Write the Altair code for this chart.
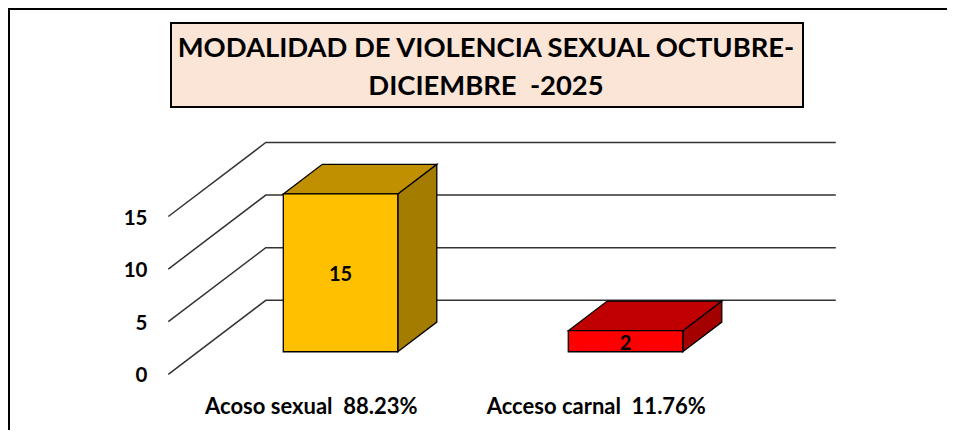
import altair as alt
import pandas as pd

# --- values ---
title_lines = ["MODALIDAD DE VIOLENCIA SEXUAL OCTUBRE-", "DICIEMBRE  -2025"]
categories = ["Acoso sexual  88.23%", "Acceso carnal  11.76%"]
values = [15, 2]
front_colors = ["#FFC000", "#FF0000"]
top_colors = ["#C09000", "#C00000"]
side_colors = ["#A37C00", "#A50000"]
y_ticks = [0, 5, 10, 15]

# --- layout of the oblique 3-D projection ---
W, H = 939, 422
X0, Y0, BAND, UNIT = 160.3, 366.3, 285.0, 10.52      # canvas px of the origin, band, value unit
X_DOMAIN = [-X0 / BAND, (W - X0) / BAND]
Y_DOMAIN = [(Y0 - H) / UNIT, Y0 / UNIT]
DEPTH_X, DEPTH_V = 97.5 / BAND, 74 / UNIT            # shift at the back wall, in data units
BAR_W, BAR_FRONT, BAR_BACK = 114.5 / BAND, 0.305, 0.705
FONT = "Lato"


def keep_spaces(s):
    return s.replace("  ", " \u00a0")


def proj(cat_pos, v, depth):
    return cat_pos + depth * DEPTH_X, v + depth * DEPTH_V


grid_rows, side_rows, top_rows, front_rows, label_rows = [], [], [], [], []
for t in y_ticks:
    for xp, d in [(0, 0), (0, 1), (2, 1)]:
        px, pv = proj(xp, t, d)
        grid_rows.append({"tick": t, "x": px, "y": pv, "o": len(grid_rows)})

for i, (cat, v) in enumerate(zip(categories, values)):
    c = i + 0.5
    l, r = c - BAR_W / 2, c + BAR_W / 2
    # side face
    for d in (BAR_FRONT, BAR_BACK):
        px, hi = proj(r, v, d)
        _, lo = proj(r, 0, d)
        side_rows.append({"cat": cat, "x": px, "y": hi, "y2": lo, "color": side_colors[i]})
    # top face
    a = proj(l, v, BAR_FRONT)
    b = proj(l, v, BAR_BACK)
    e = proj(r, v, BAR_FRONT)
    f = proj(r, v, BAR_BACK)
    for px, hi, lo in [(a[0], a[1], a[1]), (b[0], b[1], a[1]), (e[0], b[1], e[1]), (f[0], f[1], f[1])]:
        top_rows.append({"cat": cat, "x": px, "y": hi, "y2": lo, "color": top_colors[i]})
    # front face
    lo_pt = proj(l, 0, BAR_FRONT)
    front_rows.append({"cat": cat, "x": a[0], "x2": e[0], "y": a[1], "y2": lo_pt[1], "color": front_colors[i]})
    mx, mv = proj(c, v / 2, BAR_FRONT)
    label_rows.append({"x": mx, "y": mv, "label": str(v)})

x_scale = alt.Scale(domain=X_DOMAIN, nice=False, zero=False)
y_scale = alt.Scale(domain=Y_DOMAIN, nice=False, zero=False)
label_expr = "datum.value < 1 ? '%s' : '%s'" % (keep_spaces(categories[0]), keep_spaces(categories[1]))

X_AXIS = alt.Axis(
    values=[0.5, 1.5], labelExpr=label_expr, title=None, domain=False, ticks=False, tickSize=0, grid=False,
    labelFont=FONT, labelFontWeight="bold", labelFontSize=22, labelColor="black", labelPadding=0, labelLimit=500,
    labelBaseline="middle", labelOverlap=False, labelFlush=False, labelBound=False, offset=-24,
)
Y_AXIS = alt.Axis(
    values=y_ticks, title=None, domain=False, ticks=False, tickSize=0, grid=False,
    labelFont=FONT, labelFontWeight="bold", labelFontSize=20.5, labelColor="black", labelPadding=0, labelOffset=1.5,
    labelOverlap=False, labelFlush=False, labelBound=False, offset=-139,
)
x_enc = alt.X("x:Q", scale=x_scale, axis=X_AXIS)
y_enc = alt.Y("y:Q", scale=y_scale, axis=Y_AXIS)
color_enc = alt.Color("color:N", scale=None)

grid = alt.Chart(pd.DataFrame(grid_rows)).mark_line(color="#333333", strokeWidth=1.5).encode(
    x=x_enc,
    y=y_enc,
    detail="tick:N",
    order="o:Q",
)
side = alt.Chart(pd.DataFrame(side_rows)).mark_area(stroke="black", strokeWidth=1.3, interpolate="linear").encode(
    x=x_enc, y=y_enc, y2="y2:Q", color=color_enc, detail="cat:N"
)
top = alt.Chart(pd.DataFrame(top_rows)).mark_area(stroke="black", strokeWidth=1.3, interpolate="linear").encode(
    x=x_enc, y=y_enc, y2="y2:Q", color=color_enc, detail="cat:N"
)
front = alt.Chart(pd.DataFrame(front_rows)).mark_rect(stroke="black", strokeWidth=1.3).encode(
    x=x_enc, x2="x2:Q", y=y_enc, y2="y2:Q", color=color_enc
)
bar_labels = alt.Chart(pd.DataFrame(label_rows)).mark_text(
    font=FONT, fontWeight="bold", fontSize=20, color="black", baseline="middle", dy=2.5
).encode(x=x_enc, y=y_enc, text="label:N")

box = alt.Chart(pd.DataFrame({"a": [0]})).mark_rect(fill="#FBE5D6", stroke="black", strokeWidth=2).encode(
    x=alt.value(163), x2=alt.value(795), y=alt.value(15), y2=alt.value(99)
)
border_top = alt.Chart(pd.DataFrame({"a": [0]})).mark_rule(color="black", strokeWidth=4).encode(
    x=alt.value(0), x2=alt.value(W), y=alt.value(0)
)
border_left = alt.Chart(pd.DataFrame({"a": [0]})).mark_rule(color="black", strokeWidth=4).encode(
    x=alt.value(0), y=alt.value(0), y2=alt.value(H)
)

chart = alt.layer(grid, side, top, front, bar_labels, box, border_top, border_left).properties(
    width=W,
    height=H,
    padding=0,
    autosize=alt.AutoSizeParams(type="none"),
    background="white",
    title=alt.TitleParams(
        text=[keep_spaces(s) for s in title_lines], anchor="middle", frame="group", font=FONT, fontWeight="bold",
        fontSize=27.4, lineHeight=38, color="black", baseline="top", dy=94.5, dx=8.5, offset=0, zindex=1,
    ),
).configure_view(stroke=None)

chart.save("out.html", embed_options={"renderer": "svg", "actions": False})
